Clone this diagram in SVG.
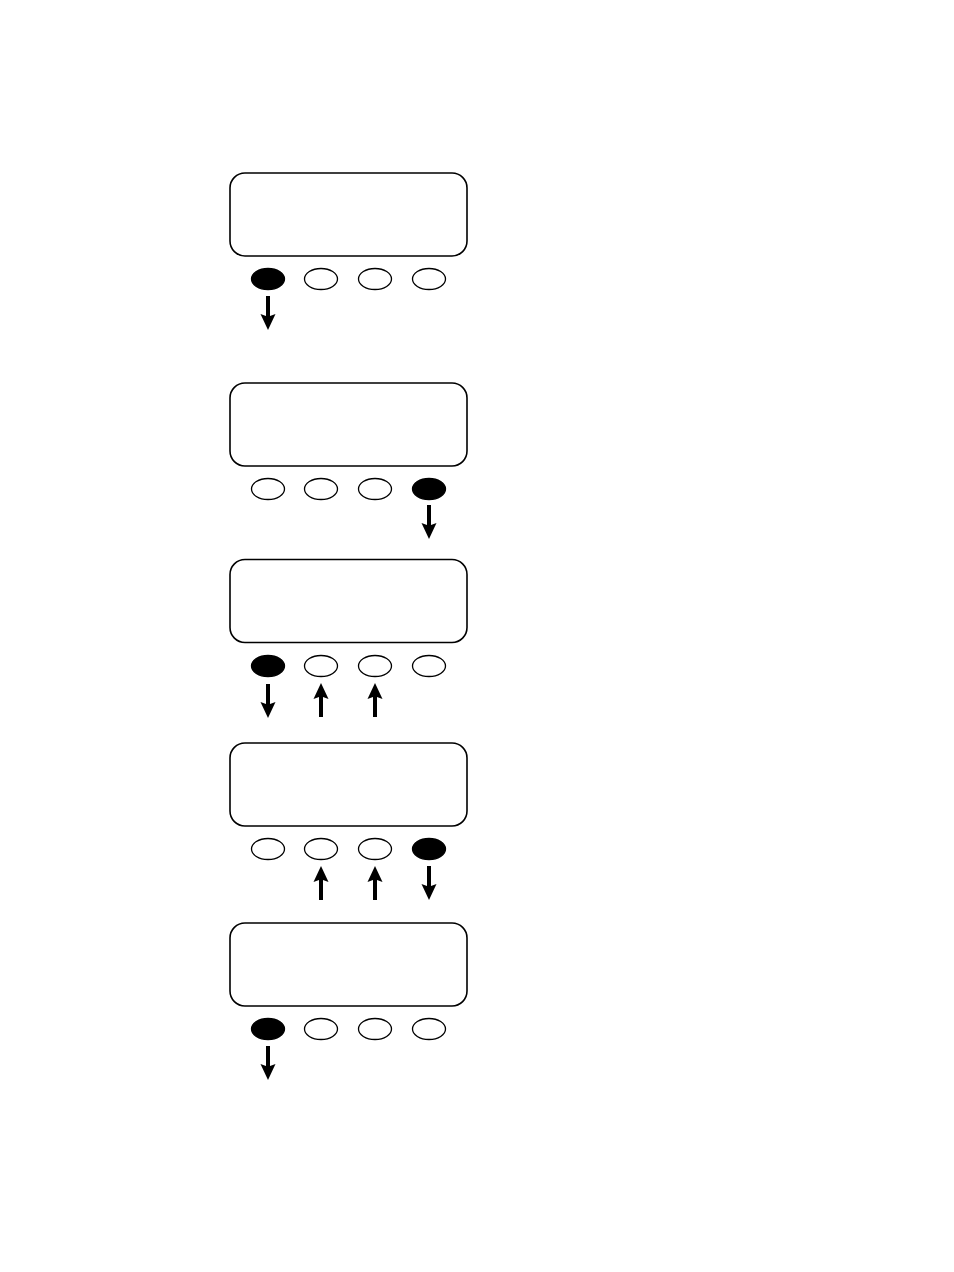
<svg xmlns="http://www.w3.org/2000/svg" xmlns:xlink="http://www.w3.org/1999/xlink" width="954" height="1272" viewBox="0 0 954 1272">
<style>
.panel{fill:#fff;stroke:#000;stroke-width:1.6}
.btn{fill:#fff;stroke:#000;stroke-width:1.3}
.btn.on{fill:#000}
.arr{fill:#000;stroke:none}
</style>
<defs>
<path id="down" class="arr" d="M-2,0 H2 V20 L7.5,18 L0,34 L-7.5,18 L-2,20 Z"/>
<path id="up" class="arr" d="M-2,34 H2 V14 L7.5,16 L0,0 L-7.5,16 L-2,14 Z"/>
</defs>
<rect width="954" height="1272" fill="#fff"/>
<g id="screen1">
<rect class="panel" x="230" y="173" width="237" height="83" rx="15"/>
<ellipse class="btn on" cx="268" cy="279" rx="16.5" ry="10.5"/>
<ellipse class="btn" cx="321" cy="279" rx="16.5" ry="10.5"/>
<ellipse class="btn" cx="375" cy="279" rx="16.5" ry="10.5"/>
<ellipse class="btn" cx="429" cy="279" rx="16.5" ry="10.5"/>
</g>
<g id="screen2">
<rect class="panel" x="230" y="383" width="237" height="83" rx="15"/>
<ellipse class="btn" cx="268" cy="489" rx="16.5" ry="10.5"/>
<ellipse class="btn" cx="321" cy="489" rx="16.5" ry="10.5"/>
<ellipse class="btn" cx="375" cy="489" rx="16.5" ry="10.5"/>
<ellipse class="btn on" cx="429" cy="489" rx="16.5" ry="10.5"/>
</g>
<g id="screen3">
<rect class="panel" x="230" y="559.5" width="237" height="83" rx="15"/>
<ellipse class="btn on" cx="268" cy="666" rx="16.5" ry="10.5"/>
<ellipse class="btn" cx="321" cy="666" rx="16.5" ry="10.5"/>
<ellipse class="btn" cx="375" cy="666" rx="16.5" ry="10.5"/>
<ellipse class="btn" cx="429" cy="666" rx="16.5" ry="10.5"/>
</g>
<g id="screen4">
<rect class="panel" x="230" y="743" width="237" height="83" rx="15"/>
<ellipse class="btn" cx="268" cy="849" rx="16.5" ry="10.5"/>
<ellipse class="btn" cx="321" cy="849" rx="16.5" ry="10.5"/>
<ellipse class="btn" cx="375" cy="849" rx="16.5" ry="10.5"/>
<ellipse class="btn on" cx="429" cy="849" rx="16.5" ry="10.5"/>
</g>
<g id="screen5">
<rect class="panel" x="230" y="923" width="237" height="83" rx="15"/>
<ellipse class="btn on" cx="268" cy="1029" rx="16.5" ry="10.5"/>
<ellipse class="btn" cx="321" cy="1029" rx="16.5" ry="10.5"/>
<ellipse class="btn" cx="375" cy="1029" rx="16.5" ry="10.5"/>
<ellipse class="btn" cx="429" cy="1029" rx="16.5" ry="10.5"/>
</g>
<g id="connectors">
<use xlink:href="#down" href="#down" x="268" y="296"/>
<use xlink:href="#down" href="#down" x="429" y="505"/>
<use xlink:href="#down" href="#down" x="268" y="684"/>
<use xlink:href="#up" href="#up" x="321" y="683"/>
<use xlink:href="#up" href="#up" x="375" y="683"/>
<use xlink:href="#up" href="#up" x="321" y="866"/>
<use xlink:href="#up" href="#up" x="375" y="866"/>
<use xlink:href="#down" href="#down" x="429" y="866"/>
<use xlink:href="#down" href="#down" x="268" y="1046"/>
</g>
</svg>
